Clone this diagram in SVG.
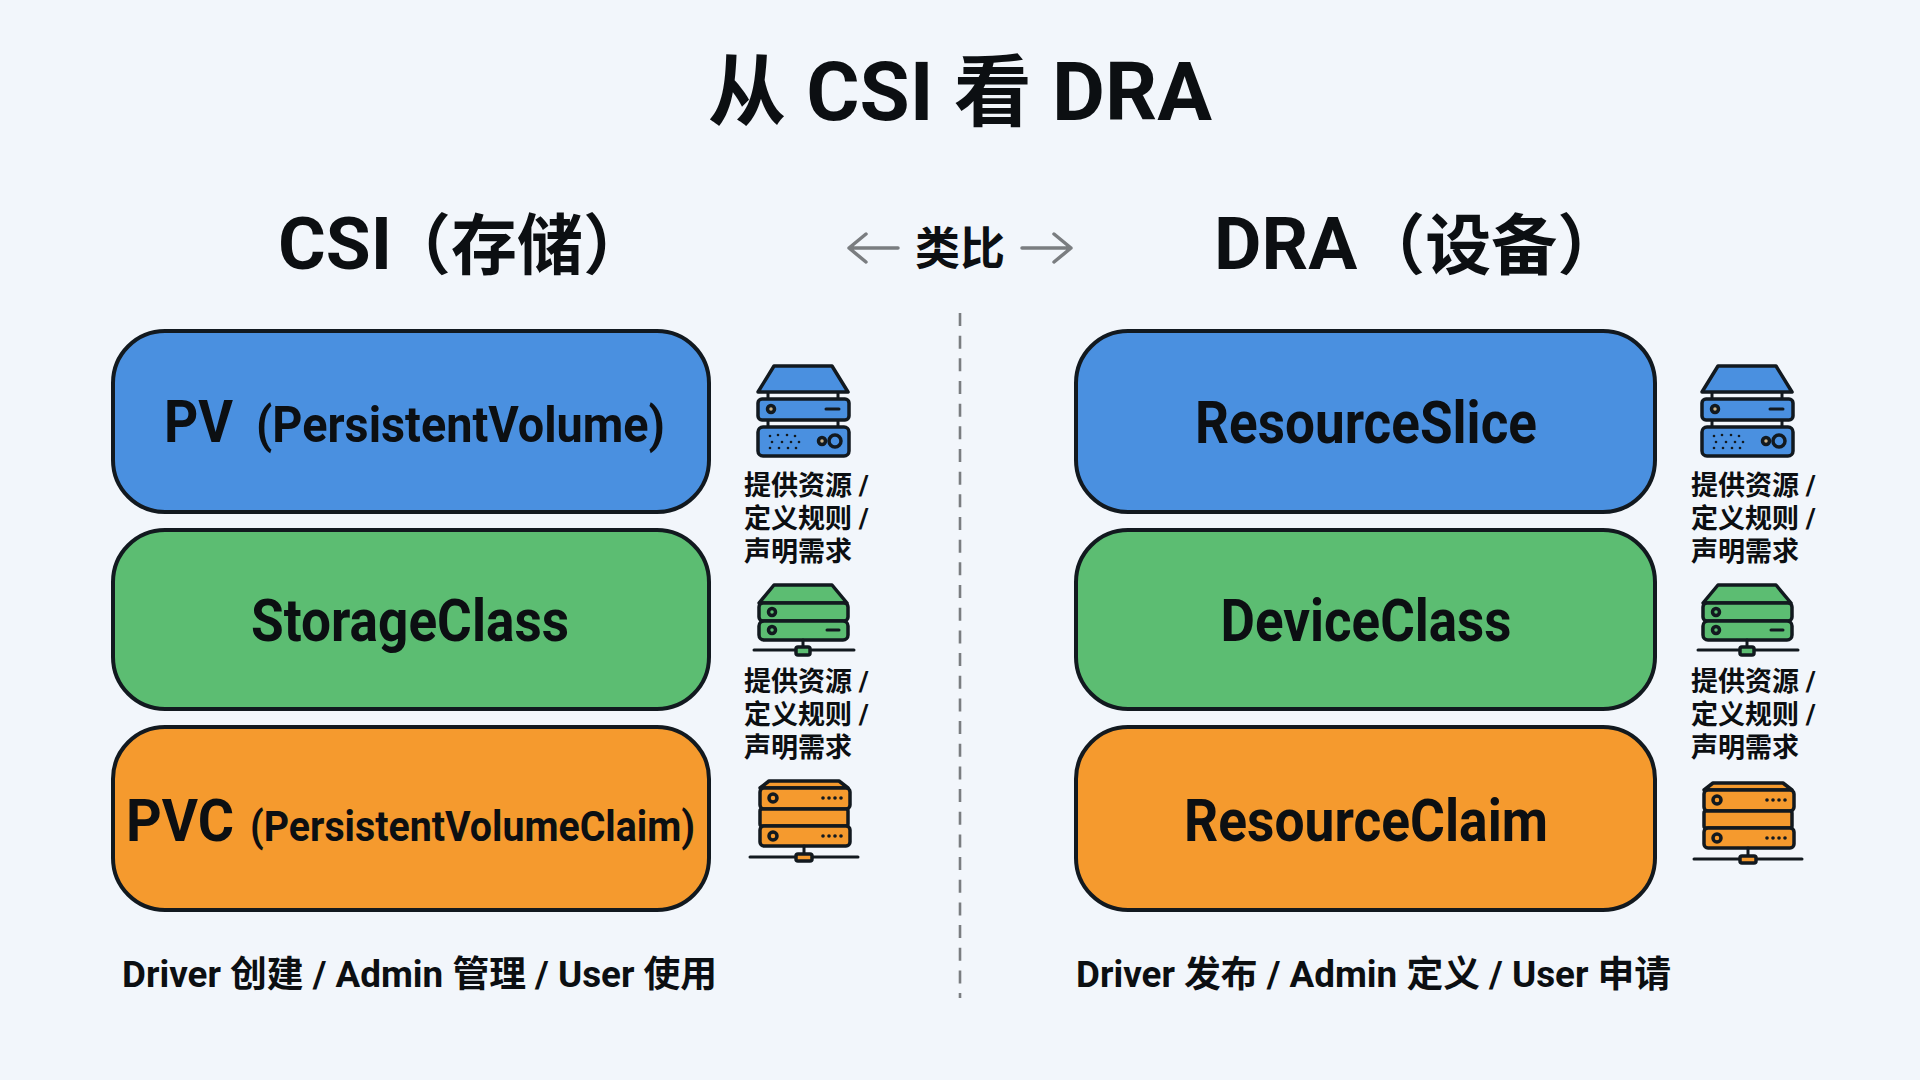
<svg xmlns="http://www.w3.org/2000/svg" width="1920" height="1080" viewBox="0 0 1920 1080">
<style>
text{font-family:Roboto,"Noto Sans CJK SC",sans-serif;font-weight:700;fill:#0c0f12}
.title{font-size:78px;text-anchor:middle}
.lat{font-size:81.5px}
.head{font-size:66px}
.hlat{font-size:73px}
.cmp{font-size:45px;text-anchor:middle}
.big{font-size:59px;text-anchor:middle}
.sub{font-size:50px}
.note{font-size:27px}
.foot{font-size:36.8px}
.box{stroke:#12191f;stroke-width:4}
.ic{stroke:#12191f;stroke-width:3.5;stroke-linejoin:round;stroke-linecap:round}
.ln{fill:none;stroke:#12191f;stroke-width:3;stroke-linecap:round}
.d{fill:#12191f;stroke:none}
.blue{fill:#4a90e0}.green{fill:#5cbd72}.orange{fill:#f59a2e}
</style>
<defs>
<g id="iconBlue">
<path class="ln" d="M-35 25V32M35 25V32M-35 53V60M35 53V60"/>
<path class="ic blue" d="M-45 25L-29-1H29L45 25Z"/>
<rect class="ic blue" x="-45" y="32" width="91" height="21" rx="4"/>
<rect class="ic blue" x="-45" y="60" width="91" height="29" rx="5"/>
<circle class="ic" cx="-32" cy="42" r="3.5" fill="#c9b28a"/>
<path class="ln" d="M23 42H36"/>
<g class="d"><circle cx="-33" cy="69" r="1.3"/><circle cx="-25" cy="68" r="1.3"/><circle cx="-16" cy="68" r="1.3"/><circle cx="-8" cy="69" r="1.3"/><circle cx="-31" cy="75" r="1.3"/><circle cx="-21" cy="75" r="1.3"/><circle cx="-12" cy="75" r="1.3"/><circle cx="-4" cy="75" r="1.3"/><circle cx="-33" cy="81" r="1.3"/><circle cx="-24" cy="81" r="1.3"/><circle cx="-15" cy="81" r="1.3"/><circle cx="-7" cy="81" r="1.3"/></g>
<circle class="ic" cx="19" cy="74" r="3.5" fill="#c9b28a"/>
<circle class="ic" cx="32" cy="74" r="6" fill="#4a90e0"/>
</g>
<g id="iconGreen">
<path class="ic green" d="M-44 18L-29 0H29L44 18Z"/>
<rect class="ic green" x="-44" y="18" width="89" height="18" rx="4"/>
<rect class="ic green" x="-44" y="36" width="89" height="19" rx="5"/>
<circle class="ic" cx="-31" cy="27" r="3.5" fill="#5cbd72"/>
<circle class="ic" cx="-31" cy="45" r="3.5" fill="#5cbd72"/>
<path class="ln" d="M24 45H36"/>
<path class="ln" d="M0 55V63M-49 65H51"/>
<rect class="ic green" x="-7" y="62" width="14" height="8" rx="2"/>
</g>
<g id="iconOrange">
<path class="ic orange" d="M-44 7L-35 0H35L44 7Z"/>
<rect class="ic orange" x="-44" y="7" width="90" height="21" rx="4"/>
<rect class="ic orange" x="-44" y="28" width="88" height="17" rx="2"/>
<rect class="ic orange" x="-44" y="45" width="90" height="20" rx="4"/>
<circle class="ic" cx="-31" cy="17" r="4" fill="#f59a2e"/>
<circle class="ic" cx="-31" cy="55" r="4" fill="#f59a2e"/>
<g class="d"><circle cx="19" cy="17" r="1.8"/><circle cx="25" cy="17" r="1.8"/><circle cx="31" cy="17" r="1.8"/><circle cx="37" cy="17" r="1.8"/><circle cx="19" cy="55" r="1.8"/><circle cx="25" cy="55" r="1.8"/><circle cx="31" cy="55" r="1.8"/><circle cx="37" cy="55" r="1.8"/></g>
<path class="ln" d="M0 65V74M-54 76H54"/>
<rect class="ic orange" x="-8" y="73" width="16" height="7" rx="2"/>
</g>
<g id="note">
<text class="note" y="0">提供资源 /</text>
<text class="note" y="33">定义规则 /</text>
<text class="note" y="66">声明需求</text>
</g>
</defs>
<rect width="1920" height="1080" fill="#f2f6fb"/>
<text id="title" class="title" x="960" y="120">从<tspan class="lat"> CSI </tspan>看<tspan class="lat"> DRA</tspan></text>
<text id="head-csi" class="head" x="278" y="269"><tspan class="hlat">CSI</tspan><tspan dx="-7">（存储）</tspan></text>
<text id="head-dra" class="head" x="1214" y="269"><tspan class="hlat">DRA</tspan><tspan dx="2">（设备）</tspan></text>
<g id="connectors" fill="none" stroke="#7a7d80" stroke-width="3.5" stroke-linecap="round" stroke-linejoin="round">
<path d="M898 248H849M866 234L849 248L866 262"/>
<path d="M1022 248H1071M1054 234L1071 248L1054 262"/>
<path d="M960 313V998" stroke-width="2.6" stroke-dasharray="13 9.67" stroke-linecap="butt"/>
</g>
<text id="analogy" class="cmp" x="960" y="265">类比</text>
<g id="pv"><rect class="box blue" x="113" y="331" width="596" height="181" rx="52"/>
<text x="164" y="442" class="big" style="text-anchor:start" textLength="69" lengthAdjust="spacingAndGlyphs">PV</text>
<text x="256" y="442" class="sub" textLength="409" lengthAdjust="spacingAndGlyphs">(PersistentVolume)</text></g>
<g id="sc"><rect class="box green" x="113" y="530" width="596" height="179" rx="52"/>
<text x="410" y="641" class="big" textLength="318" lengthAdjust="spacingAndGlyphs">StorageClass</text></g>
<g id="pvc"><rect class="box orange" x="113" y="727" width="596" height="183" rx="52"/>
<text x="126" y="841" class="big" style="text-anchor:start" textLength="108" lengthAdjust="spacingAndGlyphs">PVC</text>
<text x="250" y="841" class="sub" style="font-size:43px" textLength="445" lengthAdjust="spacingAndGlyphs">(PersistentVolumeClaim)</text></g>
<g id="rs"><rect class="box blue" x="1076" y="331" width="579" height="181" rx="52"/>
<text x="1366" y="443" class="big" textLength="342" lengthAdjust="spacingAndGlyphs">ResourceSlice</text></g>
<g id="dc"><rect class="box green" x="1076" y="530" width="579" height="179" rx="52"/>
<text x="1366" y="641" class="big" textLength="291" lengthAdjust="spacingAndGlyphs">DeviceClass</text></g>
<g id="rc"><rect class="box orange" x="1076" y="727" width="579" height="183" rx="52"/>
<text x="1366" y="841" class="big" textLength="364" lengthAdjust="spacingAndGlyphs">ResourceClaim</text></g>
<g id="csi-icons">
<use href="#iconBlue" x="803" y="367"/><use href="#note" x="744" y="495"/>
<use href="#iconGreen" x="803" y="585"/><use href="#note" x="744" y="691"/>
<use href="#iconOrange" x="804" y="781"/>
</g>
<g id="dra-icons">
<use href="#iconBlue" x="1747" y="367"/><use href="#note" x="1691" y="495"/>
<use href="#iconGreen" x="1747" y="585"/><use href="#note" x="1691" y="691"/>
<use href="#iconOrange" x="1748" y="783"/>
</g>
<text id="foot-csi" class="foot" x="122" y="987">Driver 创建 / Admin 管理 / User 使用</text>
<text id="foot-dra" class="foot" x="1076" y="987">Driver 发布 / Admin 定义 / User 申请</text>
</svg>
